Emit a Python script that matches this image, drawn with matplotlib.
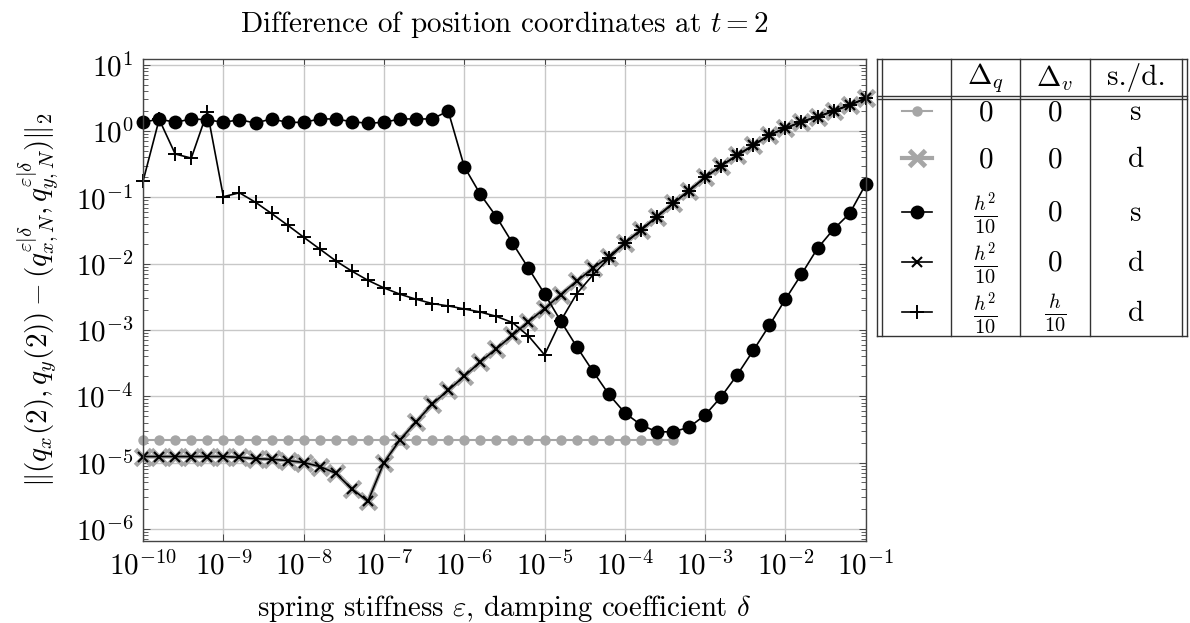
import numpy as np
import matplotlib
matplotlib.use("Agg")
import matplotlib.pyplot as plt

plt.rcParams['font.family'] = 'serif'
plt.rcParams['font.serif'] = ['cmr10']
plt.rcParams['mathtext.fontset'] = 'cm'
plt.rcParams['axes.formatter.use_mathtext'] = True

# exponents of epsilon / delta (5 points per decade)
exps = [-10.0, -9.8, -9.6, -9.4, -9.2, -9.0, -8.8, -8.6, -8.4, -8.2,
        -8.0, -7.8, -7.6, -7.4, -7.2, -7.0, -6.8, -6.6, -6.4, -6.2,
        -6.0, -5.8, -5.6, -5.4, -5.2, -5.0, -4.8, -4.6, -4.4, -4.2,
        -4.0, -3.8, -3.6, -3.4, -3.2, -3.0, -2.8, -2.6, -2.4, -2.2,
        -2.0, -1.8, -1.6, -1.4, -1.2, -1.0]

# dq=0, dv=0, spring (stops at 10^-3.4)
err_0_0_s = [2.2e-5, 2.2e-5, 2.2e-5, 2.2e-5, 2.2e-5, 2.2e-5, 2.2e-5, 2.2e-5, 2.2e-5, 2.2e-5,
             2.2e-5, 2.2e-5, 2.2e-5, 2.2e-5, 2.2e-5, 2.2e-5, 2.2e-5, 2.2e-5, 2.2e-5, 2.2e-5,
             2.2e-5, 2.2e-5, 2.2e-5, 2.2e-5, 2.2e-5, 2.2e-5, 2.2e-5, 2.2e-5, 2.2e-5, 2.2e-5,
             2.2e-5, 2.2e-5, 2.2e-5, 2.2e-5]

# dq=0, dv=0, damper
err_0_0_d = [1.23e-5, 1.23e-5, 1.23e-5, 1.23e-5, 1.23e-5, 1.23e-5, 1.2e-5, 1.14e-5, 1.12e-5, 1.07e-5,
             1.0e-5, 8.7e-6, 6.9e-6, 4.0e-6, 2.6e-6, 1.0e-5, 2.2e-5, 4.1e-5, 7.6e-5, 1.23e-4,
             2.0e-4, 3.3e-4, 5.2e-4, 8.3e-4, 1.33e-3, 2.1e-3, 3.4e-3, 5.4e-3, 8.5e-3, 1.27e-2,
             2.05e-2, 3.2e-2, 5.1e-2, 8.1e-2, 0.126, 0.20, 0.30, 0.43, 0.61, 0.87,
             1.1, 1.38, 1.64, 2.0, 2.47, 3.1]

# dq=h^2/10, dv=0, spring
err_h2_0_s = [1.35, 1.52, 1.35, 1.52, 1.48, 1.35, 1.48, 1.32, 1.52, 1.35,
              1.35, 1.52, 1.52, 1.38, 1.31, 1.35, 1.52, 1.52, 1.52, 2.0,
              0.29, 0.111, 0.051, 0.0205, 0.0085, 0.0035, 1.37e-3, 5.6e-4, 2.4e-4, 1.07e-4,
              5.6e-5, 3.7e-5, 2.9e-5, 2.9e-5, 3.4e-5, 5.2e-5, 9.8e-5, 2.1e-4, 4.9e-4, 1.17e-3,
              2.9e-3, 6.9e-3, 0.017, 0.033, 0.057, 0.157]

# dq=h^2/10, dv=0, damper
err_h2_0_d = [1.23e-5, 1.23e-5, 1.23e-5, 1.23e-5, 1.23e-5, 1.23e-5, 1.2e-5, 1.14e-5, 1.12e-5, 1.07e-5,
              1.0e-5, 8.7e-6, 6.9e-6, 4.0e-6, 2.6e-6, 1.0e-5, 2.2e-5, 4.1e-5, 7.6e-5, 1.23e-4,
              2.0e-4, 3.3e-4, 5.2e-4, 8.3e-4, 1.33e-3, 2.1e-3, 3.4e-3, 5.4e-3, 8.5e-3, 1.27e-2,
              2.05e-2, 3.2e-2, 5.1e-2, 8.1e-2, 0.126, 0.20, 0.30, 0.43, 0.61, 0.87,
              1.1, 1.38, 1.64, 2.0, 2.47, 3.1]

# dq=h^2/10, dv=h/10, damper
err_h2_h_d = [0.176, 1.5, 0.45, 0.39, 1.95, 0.102, 0.117, 0.084, 0.057, 0.038,
              0.025, 0.0166, 0.011, 7.7e-3, 5.6e-3, 4.3e-3, 3.45e-3, 2.9e-3, 2.5e-3, 2.3e-3,
              2.07e-3, 1.86e-3, 1.6e-3, 1.29e-3, 8.1e-4, 4.2e-4, 1.36e-3, 3.5e-3, 6.7e-3, 0.012,
              2.05e-2, 3.2e-2, 5.1e-2, 8.1e-2, 0.126, 0.20, 0.30, 0.43, 0.61, 0.87,
              1.1, 1.38, 1.64, 2.0, 2.47, 3.1]

# legend table rows
row_dq = ['$0$', '$0$', r'$\frac{h^2}{10}$', r'$\frac{h^2}{10}$', r'$\frac{h^2}{10}$']
row_dv = ['$0$', '$0$', '$0$', '$0$', r'$\frac{h}{10}$']
row_sd = ['s', 'd', 's', 'd', 'd']

gray = '#a6a6a6'
styles = [
    dict(color=gray, marker='o', ms=7.5, lw=1.5, mew=0),
    dict(color=gray, marker='x', ms=11, mew=3.5, lw=3),
    dict(color='k', marker='o', ms=10, lw=1.2, mew=0),
    dict(color='k', marker='x', ms=6.5, mew=1.5, lw=1.2),
    dict(color='k', marker='+', ms=10, mew=1.4, lw=1.2),
]

x = 10.0 ** np.array(exps)
series = [
    (x[:len(err_0_0_s)], err_0_0_s),
    (x, err_0_0_d),
    (x, err_h2_0_s),
    (x, err_h2_0_d),
    (x, err_h2_h_d),
]

W, H = 1190, 623
fig = plt.figure(figsize=(W / 100, H / 100), dpi=100)
ax = fig.add_axes([143.1 / W, 1 - 541 / H, (865.7 - 143.1) / W, (541 - 59) / H])

for (xs, ys), st in zip(series, styles):
    ax.plot(xs, ys, clip_on=False, **st)

ax.set_xscale('log')
ax.set_yscale('log')
ax.set_xlim(1e-10, 1e-1)
ax.set_ylim(10 ** -6.184, 10 ** 1.086)
ax.set_xticks([10.0 ** e for e in range(-10, 0)])
ax.set_yticks([10.0 ** e for e in range(-6, 2)])
ax.grid(True, which='major', color='#c8c8c8', lw=1.0)
ax.set_axisbelow(True)
ax.tick_params(which='both', direction='in', top=True, right=True, labelsize=21, color='#444444')
ax.tick_params(which='major', length=5, width=0.7, pad=7)
ax.tick_params(which='minor', length=3.5, width=0.6)
for sp in ax.spines.values():
    sp.set_linewidth(1.0)
    sp.set_color('#444444')

fig.text(504 / W, 1 - 25 / H, 'Difference of position coordinates at $t = 2$',
         ha='center', va='center', fontsize=21)
fig.text(504 / W, 1 - 608 / H, r'spring stiffness $\varepsilon$, damping coefficient $\delta$',
         ha='center', va='center', fontsize=20.7)
fig.text(38 / W, 1 - 300 / H,
         r'$\|(q_x(2), q_y(2)) - (q_{x,N}^{\varepsilon|\delta}, q_{y,N}^{\varepsilon|\delta})\|_2$',
         ha='center', va='center', rotation=90, fontsize=21)

# legend table in pixel coordinates
lg = fig.add_axes([0, 0, 1, 1])
lg.set_xlim(0, W)
lg.set_ylim(H, 0)
lg.axis('off')
lc = dict(color='#333333', lw=1.0)
top, bot = 59.3, 335.7
left_o, left_i, right_i, right_o = 876.7, 882.3, 1181.7, 1187.3
cols = [950.7, 1020, 1090]
lg.plot([left_o, right_o], [top, top], **lc)
lg.plot([left_o, right_o], [bot, bot], **lc)
lg.plot([left_o, right_o], [96, 96], **lc)
lg.plot([left_o, right_o], [98.5, 98.5], **lc)
for xv in [left_o, left_i, right_i, right_o] + cols:
    lg.plot([xv, xv], [top, bot], **lc)

lg.text(985.3, 78, r'$\Delta_q$', ha='center', va='center', fontsize=21)
lg.text(1055, 78, r'$\Delta_v$', ha='center', va='center', fontsize=21)
lg.text(1136, 78, 's./d.', ha='center', va='center', fontsize=21)

row_y = [111, 158.3, 211.7, 261.7, 311.7]
for i, yr in enumerate(row_y):
    st = dict(styles[i])
    st['marker'] = 'none'
    lg.plot([902, 932], [yr, yr], **st)
    lg.plot([917], [yr], **styles[i])
    lg.text(985.3, yr + 2, row_dq[i], ha='center', va='center', fontsize=21)
    lg.text(1055, yr + 2, row_dv[i], ha='center', va='center', fontsize=21)
    lg.text(1136, yr + 2, row_sd[i], ha='center', va='center', fontsize=21)

fig.savefig('out.png', dpi=100)
